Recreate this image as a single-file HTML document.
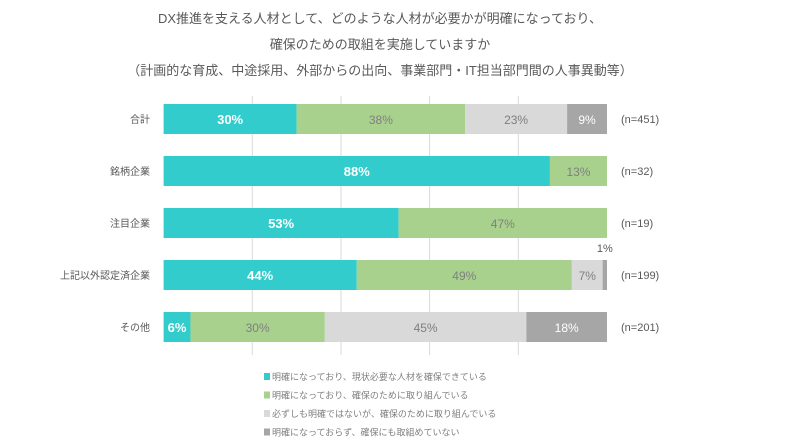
<!DOCTYPE html>
<html><head><meta charset="utf-8">
<style>
body{margin:0;background:#fff;font-family:"Liberation Sans","Noto Sans CJK JP",sans-serif;}
#wrap{position:relative;width:792px;height:441px;overflow:hidden;}
.t{position:absolute;left:0;width:760px;text-align:center;color:#595959;font-size:13px;}
</style></head>
<body>
<div id="wrap">
<div class="t" style="top:8px">DX推進を支える人材として、どのような人材が必要かが明確になっており、</div>
<div class="t" style="top:34px">確保のための取組を実施していますか</div>
<div class="t" style="top:60px">（計画的な育成、中途採用、外部からの出向、事業部門・IT担当部門間の人事異動等）</div>
<svg id="svg" width="792" height="441" style="position:absolute;left:0;top:0"></svg>
</div>
<script>
const categories=["合計","銘柄企業","注目企業","上記以外認定済企業","その他"];
const nLabels=["(n=451)","(n=32)","(n=19)","(n=199)","(n=201)"];
const s1=[30,88,53,44,6];
const s2=[38,13,47,49,30];
const s3=[23,0,0,7,45];
const s4=[9,0,0,1,18];
const seriesNames=["明確になっており、現状必要な人材を確保できている","明確になっており、確保のために取り組んでいる","必ずしも明確ではないが、確保のために取り組んでいる","明確になっておらず、確保にも取組めていない"];
const colors=["#33cccc","#a9d18e","#d9d9d9","#a6a6a6"];
const textColors=["#ffffff","#7f7f7f","#7f7f7f","#ffffff"];
const ns="http://www.w3.org/2000/svg";
const svg=document.getElementById('svg');
const X0=163.6,X1=607,rowTop=104,rowStep=52,barH=30;
function x(v){return X0+(X1-X0)*v/100;}
function mk(tag,attrs){const e=document.createElementNS(ns,tag);for(const k in attrs)e.setAttribute(k,attrs[k]);svg.appendChild(e);return e;}
[20,40,60,80].forEach(v=>{
 const l=mk('line',{x1:x(v),x2:x(v),y1:96,y2:355,stroke:'#d9d9d9','stroke-width':1});
 
 
});
const series=[s1,s2,s3,s4];
categories.forEach((c,i)=>{
 const y=rowTop+i*rowStep;
 const lab=mk('text',{x:150,y:y+barH/2+4,'text-anchor':'end','font-size':10,fill:'#595959'});
 lab.textContent=c;
 
 
 const tot=series.reduce((a,s)=>a+s[i],0);
 let acc=0;
 series.forEach((s,k)=>{
  const v=s[i];if(!v)return;
  const w=v/tot*100;
  const r=mk('rect',{x:x(acc),y:y,width:x(acc+w)-x(acc),height:barH,fill:colors[k]});
  
  
  const cx=(x(acc)+x(acc+w))/2;
  if(v>=3){
   const t=mk('text',{x:cx,y:y+barH/2+5,'text-anchor':'middle','font-size':k==0?13:12,'font-weight':k==0?'bold':'normal',fill:textColors[k]});
   t.textContent=v+'%';
   
   
  }else{
   const t=mk('text',{x:cx,y:y-8,'text-anchor':'middle','font-size':11,fill:'#595959'});
   t.textContent=v+'%';
   
   
  }
  acc+=w;
 });
 const n=mk('text',{x:621,y:y+barH/2+4,'font-size':11,fill:'#595959'});
 n.textContent=nLabels[i];
 
 
});
seriesNames.forEach((nm,k)=>{
 const y=372+k*18.5;
 const r=mk('rect',{x:264,y:y+1,width:6,height:7,fill:colors[k]});
 
 
 const t=mk('text',{x:272,y:y+8,'font-size':9,fill:'#7f7f7f'});
 t.textContent=nm;
 
 
});
</script>
</body></html>
